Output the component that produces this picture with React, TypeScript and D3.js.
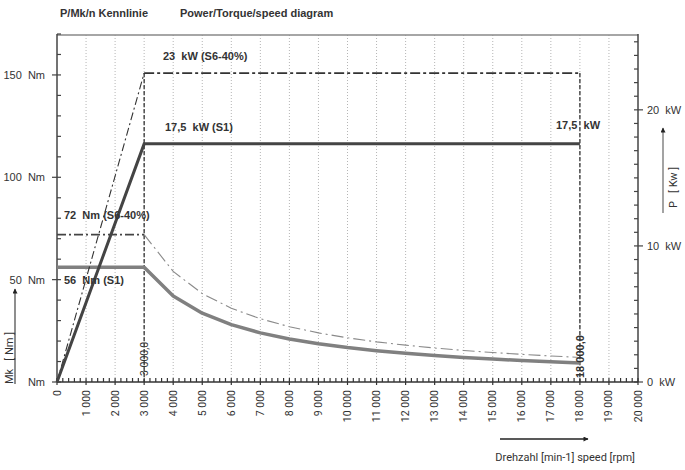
import React, { useRef, useEffect } from 'react';
import * as d3 from 'd3';

// speed axis (rpm)
const rpmTicks = d3.range(0, 20001, 1000);
const rpmMinor = d3.range(0, 20001, 200);
const nmTicks = [0, 50, 100, 150];
const nmMinor = d3.range(0, 171, 10);
const kwTicks = [0, 10, 20];
const kwMinor = d3.range(0, 26, 1);

// torque S1 / S6-40% above base speed
const torqueRpm = [3000, 4000, 5000, 6000, 7000, 8000, 9000, 10000, 11000, 12000, 13000, 14000, 15000, 16000, 17000, 18000];
const torqueS1 = [56, 42, 33.6, 28, 24, 21, 18.7, 16.8, 15.3, 14, 12.9, 12, 11.2, 10.5, 9.9, 9.3];
const torqueS6 = [72, 54, 43.2, 36, 30.9, 27, 24, 21.6, 19.6, 18, 16.6, 15.4, 14.4, 13.5, 12.7, 12];
const torqueBaseRpm = [0, 3000];
const torqueBaseS1 = [56, 56];
const torqueBaseS6 = [72, 72];

// power S1 / S6-40%
const powerRpm = [0, 3000, 18000];
const powerS1 = [0, 17.5, 17.5];
const powerS6 = [0, 22.7, 22.7];

const baseSpeed = 3000;
const maxSpeed = 18000;

const fmtRpm = (v: number) => (v === 0 ? '0' : d3.format(',')(v).replace(',', ' '));

const App = () => {
  const ref = useRef<SVGSVGElement>(null);

  useEffect(() => {
    const width = 685, height = 470;
    const margin = { top: 35, right: 47, bottom: 88, left: 57 };
    const plotW = width - margin.left - margin.right;
    const plotB = height - margin.bottom;

    const svg = d3.select(ref.current).attr('width', width).attr('height', height);
    svg.selectAll('*').remove();

    const x = d3.scaleLinear().domain([0, 20000]).range([margin.left, margin.left + plotW]);
    const yNm = d3.scaleLinear().domain([0, 170]).range([plotB, margin.top - 1]);
    const yKw = d3.scaleLinear().domain([0, 25.5]).range([plotB, margin.top]);

    const ink = '#333';
    const sans = "'Liberation Sans', Arial, sans-serif";
    const din = "Roboto, 'DejaVu Sans', sans-serif";

    // title
    svg.append('text').attr('x', 60).attr('y', 17).attr('font-family', sans).attr('font-weight', 'bold')
      .attr('font-size', 11).attr('fill', ink).text('P/Mk/n Kennlinie');
    svg.append('text').attr('x', 180).attr('y', 17).attr('font-family', sans).attr('font-weight', 'bold')
      .attr('font-size', 11).attr('fill', ink).text('Power/Torque/speed diagram');

    // vertical dotted grid
    svg.append('g').selectAll('line').data(rpmTicks.slice(1, -1)).join('line')
      .attr('x1', d => x(d)).attr('x2', d => x(d))
      .attr('y1', margin.top).attr('y2', plotB)
      .attr('stroke', '#b5b5b5').attr('stroke-dasharray', '1,2').attr('stroke-width', 1);

    // frame
    svg.append('line').attr('x1', x(0)).attr('x2', x(20000)).attr('y1', margin.top).attr('y2', margin.top)
      .attr('stroke', '#888').attr('stroke-width', 1.5);
    svg.append('line').attr('x1', x(0)).attr('x2', x(0)).attr('y1', margin.top - 1).attr('y2', plotB)
      .attr('stroke', '#444').attr('stroke-width', 1.5);
    svg.append('line').attr('x1', x(20000)).attr('x2', x(20000)).attr('y1', margin.top - 1).attr('y2', plotB)
      .attr('stroke', '#444').attr('stroke-width', 1.5);
    svg.append('line').attr('x1', x(0)).attr('x2', x(20000)).attr('y1', plotB).attr('y2', plotB)
      .attr('stroke', '#333').attr('stroke-width', 1.5);

    // left ticks
    svg.append('g').selectAll('line').data(nmMinor).join('line')
      .attr('x1', d => (nmTicks.includes(d) ? x(0) - 5 : x(0))).attr('x2', x(0) + 4)
      .attr('y1', d => yNm(d)).attr('y2', d => yNm(d))
      .attr('stroke', '#444').attr('stroke-width', 1.2);
    svg.append('g').selectAll('text').data(nmTicks).join('text')
      .attr('x', 45).attr('y', d => yNm(d) + 4).attr('text-anchor', 'end')
      .attr('font-family', sans).attr('font-size', 11).attr('fill', ink)
      .style('white-space', 'pre')
      .text(d => (d === 0 ? 'Nm' : `${d}  Nm`));

    // right ticks
    svg.append('g').selectAll('line').data(kwMinor).join('line')
      .attr('x1', x(20000) - 4).attr('x2', d => (kwTicks.includes(d) ? x(20000) + 5 : x(20000)))
      .attr('y1', d => yKw(d)).attr('y2', d => yKw(d))
      .attr('stroke', '#444').attr('stroke-width', 1.2);
    svg.append('g').selectAll('text').data(kwTicks).join('text')
      .attr('x', 647).attr('y', d => yKw(d) + 4)
      .attr('font-family', sans).attr('font-size', 11).attr('fill', ink)
      .style('white-space', 'pre')
      .text(d => `${d}  kW`);

    // bottom ticks
    svg.append('g').selectAll('line').data(rpmMinor).join('line')
      .attr('x1', d => x(d)).attr('x2', d => x(d))
      .attr('y1', plotB - 4).attr('y2', d => (d % 1000 === 0 ? plotB + 3 : plotB))
      .attr('stroke', '#333').attr('stroke-width', 1.2);
    svg.append('g').selectAll('text').data(rpmTicks).join('text')
      .attr('transform', d => `translate(${x(d) + 3.5},390) rotate(-90)`)
      .attr('text-anchor', 'end')
      .attr('font-family', din).attr('font-size', 10.5).attr('fill', ink)
      .text(d => fmtRpm(d));

    // base / max speed markers
    [baseSpeed, maxSpeed].forEach(s => {
      svg.append('line').attr('x1', x(s)).attr('x2', x(s))
        .attr('y1', yKw(powerS6[1])).attr('y2', plotB)
        .attr('stroke', '#333').attr('stroke-width', 1.3).attr('stroke-dasharray', '4,2');
    });

    const lineNm = d3.line<[number, number]>().x(d => x(d[0])).y(d => yNm(d[1]));
    const lineKw = d3.line<[number, number]>().x(d => x(d[0])).y(d => yKw(d[1]));
    const zip = (a: number[], b: number[]) => a.map((v, i) => [v, b[i]] as [number, number]);

    // S6 torque, decreasing part
    svg.append('path').attr('d', lineNm(zip(torqueRpm, torqueS6)))
      .attr('fill', 'none').attr('stroke', '#8a8a8a').attr('stroke-width', 1.1)
      .attr('stroke-dasharray', '12,4,2,4');
    // S6 torque, constant part
    svg.append('path').attr('d', lineNm(zip(torqueBaseRpm, torqueBaseS6)))
      .attr('fill', 'none').attr('stroke', '#444').attr('stroke-width', 1.6)
      .attr('stroke-dasharray', '9,3,2,3');
    // S1 torque
    svg.append('path').attr('d', lineNm(zip(torqueBaseRpm, torqueBaseS1).concat(zip(torqueRpm, torqueS1).slice(1))))
      .attr('fill', 'none').attr('stroke', '#808080').attr('stroke-width', 3.5)
      .attr('stroke-linejoin', 'round');

    // S6 power: thin ramp, heavier constant part
    const s6 = zip(powerRpm, powerS6);
    svg.append('path').attr('d', lineKw(s6.slice(0, 2)))
      .attr('fill', 'none').attr('stroke', '#333').attr('stroke-width', 1.1)
      .attr('stroke-dasharray', '8,3,2,3');
    svg.append('path').attr('d', lineKw(s6.slice(1)))
      .attr('fill', 'none').attr('stroke', '#333').attr('stroke-width', 1.8)
      .attr('stroke-dasharray', '10,3,3,3');
    // S1 power
    svg.append('path').attr('d', lineKw(zip(powerRpm, powerS1)))
      .attr('fill', 'none').attr('stroke', '#444').attr('stroke-width', 3);

    // speed labels
    svg.append('text').attr('transform', `translate(${x(baseSpeed) + 4},376) rotate(-90)`)
      .attr('font-family', din).attr('font-size', 10.5).attr('fill', ink).text('3 000,0');
    svg.append('text').attr('transform', `translate(${x(maxSpeed) + 4.5},378) rotate(-90)`)
      .attr('font-family', sans).attr('font-weight', 'bold').attr('font-size', 11).attr('fill', ink)
      .text('18 000,0');

    // annotations
    const notes: [number, number, string][] = [
      [163, 60, '23  kW (S6-40%)'],
      [165, 131, '17,5  kW (S1)'],
      [556, 129, '17,5  kW'],
      [64, 219, '72  Nm (S6-40%)'],
      [64, 284, '56  Nm (S1)'],
    ];
    svg.append('g').selectAll('text').data(notes).join('text')
      .attr('x', d => d[0]).attr('y', d => d[1])
      .attr('font-family', sans).attr('font-weight', 'bold').attr('font-size', 11).attr('fill', ink)
      .style('white-space', 'pre')
      .text(d => d[2]);

    // axis titles with arrows
    const defs = svg.append('defs');
    defs.append('marker').attr('id', 'arr').attr('viewBox', '0 0 10 10').attr('refX', 9).attr('refY', 5)
      .attr('markerWidth', 9).attr('markerHeight', 5).attr('orient', 'auto').attr('markerUnits', 'userSpaceOnUse')
      .append('path').attr('d', 'M0,0L10,5L0,10z').attr('fill', '#222');

    svg.append('line').attr('x1', 15).attr('x2', 15).attr('y1', 384).attr('y2', 289)
      .attr('stroke', '#444').attr('stroke-width', 1.2).attr('marker-end', 'url(#arr)');
    svg.append('text').attr('transform', 'translate(13,384) rotate(-90)')
      .attr('font-family', din).attr('font-size', 11).attr('fill', ink).style('white-space', 'pre')
      .text('Mk   [ Nm ]');

    svg.append('line').attr('x1', 663).attr('x2', 663).attr('y1', 213).attr('y2', 128)
      .attr('stroke', '#666').attr('stroke-width', 1.2).attr('marker-end', 'url(#arr)');
    svg.append('text').attr('transform', 'translate(677,208) rotate(-90)')
      .attr('font-family', din).attr('font-size', 11).attr('fill', ink).style('white-space', 'pre')
      .text('P   [ Kw ]');

    svg.append('line').attr('x1', 500).attr('x2', 588).attr('y1', 439).attr('y2', 439)
      .attr('stroke', '#222').attr('stroke-width', 1.3).attr('marker-end', 'url(#arr)');
    svg.append('text').attr('x', 635).attr('y', 461).attr('text-anchor', 'end')
      .attr('font-family', din).attr('font-size', 11).attr('fill', ink)
      .text('Drehzahl [min-1] speed [rpm]');
  }, []);

  return <svg ref={ref} style={{ position: 'absolute', left: 0, top: 0, background: '#fff' }} />;
};

export default App;
